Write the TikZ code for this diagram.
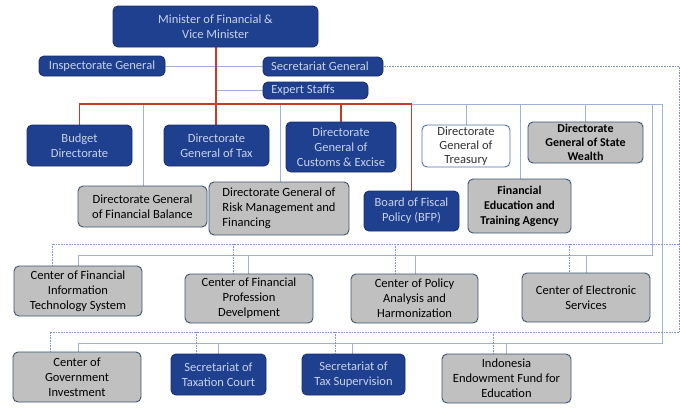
\documentclass[tikz,border=0pt]{standalone}
\usepackage{fontspec}
\setmainfont{Carlito}
\definecolor{dblue}{RGB}{31,63,143}
\definecolor{dblueb}{RGB}{28,48,105}
\definecolor{ltext}{RGB}{200,211,236}
\definecolor{gfill}{RGB}{192,192,192}
\definecolor{gbord}{RGB}{60,84,114}
\definecolor{lline}{RGB}{160,178,220}
\definecolor{dline}{RGB}{130,150,195}
\definecolor{rline}{RGB}{196,60,40}
\definecolor{tbord}{RGB}{80,112,180}
\begin{document}
\begin{tikzpicture}[x=1pt,y=-1pt,
  box/.style={rounded corners=5pt, line width=0.9pt, align=center, inner xsep=2pt, inner ysep=0pt, font=\fontsize{12.5}{15}\selectfont},
  bluebox/.style={box, fill=dblue, draw=dblueb, text=ltext},
  graybox/.style={box, fill=gfill, draw=gbord, text=black},
  whitebox/.style={box, fill=white, draw=tbord, text=black!80},
  tight/.style={font=\fontsize{12.5}{14}\selectfont},
  redline/.style={draw=rline, line width=1.4pt},
  blueline/.style={draw=lline, line width=0.8pt},
  dotline/.style={draw=dline, line width=0.6pt, densely dotted}]
\useasboundingbox (0,0) rectangle (680,407);

% coordinates
\coordinate (c1) at (652,104);
\coordinate (rc1) at (662,104);
\coordinate (d0) at (679,66);
\coordinate (d2) at (679,244);
\coordinate (d3) at (679,332);

% connectors first (behind boxes)
\draw[blueline] (102,66) -- (323,66);
\draw[blueline] (216,90) -- (315,90);
\draw[blueline] (411.5,104) -- (rc1);
\draw[blueline] (143,104) -- (143,206);
\draw[blueline] (280,104) -- (280,208);
\draw[blueline] (466,104) -- (466,146);
\draw[blueline] (520,104) -- (520,206);
\draw[blueline] (585.5,104) -- (585.5,142);
\draw[blueline] (c1) |- (78,255) -- (78,291);
\draw[blueline] (248,255) -- (248,298);
\draw[blueline] (415,255) -- (415,298);
\draw[blueline] (586,255) -- (586,297);
\draw[blueline] (rc1) |- (78,343) -- (78,377);
\draw[blueline] (218.5,343) -- (218.5,374);
\draw[blueline] (352,343) -- (352,374);
\draw[blueline] (506,343) -- (506,378);

\draw[dotline] (323,66) -- (d0) -- (d3);
\draw[dotline] (d2) -- (52,244) -- (52,291);
\draw[dotline] (233,244) -- (233,298);
\draw[dotline] (395,244) -- (395,298);
\draw[dotline] (569,244) -- (569,297);
\draw[dotline] (d3) -- (50,332) -- (50,377);
\draw[dotline] (196,332) -- (196,374);
\draw[dotline] (335,332) -- (335,374);
\draw[dotline] (493,332) -- (493,378);

\draw[redline] (216,26) -- (216,145);
\draw[redline] (79.5,145) -- (79.5,104) -- (411.5,104) -- (411.5,211);
\draw[redline] (341,104) -- (341,147);

% nodes
\node[bluebox, minimum width=205, minimum height=41] (minister) at (215.5,26.5) {Minister of Financial \&\\Vice Minister};
\node[bluebox, minimum width=126, minimum height=20] (insp) at (102,66) {Inspectorate General};
\node[bluebox, minimum width=120, minimum height=19] (secg) at (323,66.5) {Secretariat General\hspace{6pt}};
\node[bluebox, minimum width=105, minimum height=17] (expert) at (315.5,90.5) {Expert Staffs\hspace{25pt}};

\node[bluebox, minimum width=105, minimum height=41] (budget) at (79.5,145.5) {Budget\\Directorate};
\node[bluebox, minimum width=105, minimum height=41] (dgtax) at (216.5,145.5) {Directorate\\General of Tax};
\node[bluebox, minimum width=110, minimum height=50] (customs) at (341,147) {Directorate\\General of\\Customs \& Excise};
\node[whitebox, tight, minimum width=88, minimum height=42] (treasury) at (466,146) {Directorate\\General of\\Treasury};
\node[graybox, minimum width=115, minimum height=41, font=\bfseries\fontsize{12}{14}\selectfont] (wealth) at (585.5,142.5) {Directorate\\General of State\\Wealth};

\node[graybox, minimum width=129, minimum height=41] (finbal) at (142.5,206.5) {Directorate General\\of Financial Balance};
\node[graybox, minimum width=140, minimum height=53, align=left] (risk) at (279,208.5) {Directorate General of\\Risk Management and\\Financing};
\node[bluebox, minimum width=95, minimum height=40] (bfp) at (411.5,211) {Board of Fiscal\\Policy (BFP)};
\node[graybox, minimum width=103, minimum height=54, font=\bfseries\fontsize{12}{15}\selectfont] (fined) at (519.5,206) {Financial\\Education and\\Training Agency};

\node[graybox, minimum width=128, minimum height=50] (cfits) at (78,291) {Center of Financial\\Information\\Technology System};
\node[graybox, minimum width=128, minimum height=49] (cfpd) at (249,298.5) {Center of Financial\\Profession\\Develpment};
\node[graybox, minimum width=127, minimum height=49] (cpah) at (414.5,298.5) {Center of Policy\\Analysis and\\Harmonization};
\node[graybox, minimum width=128, minimum height=49] (ces) at (586,297.5) {Center of Electronic\\Services};

\node[graybox, minimum width=128, minimum height=50] (cgi) at (77,377) {Center of\\Government\\Investment};
\node[bluebox, minimum width=95, minimum height=41] (taxcourt) at (218.5,374.5) {Secretariat of\\Taxation Court};
\node[bluebox, minimum width=103, minimum height=41] (taxsup) at (353.5,374.5) {Secretariat of\\Tax Supervision};
\node[graybox, minimum width=129, minimum height=49] (endow) at (506.5,378.5) {Indonesia\\Endowment Fund for\\Education};
\end{tikzpicture}
\end{document}
